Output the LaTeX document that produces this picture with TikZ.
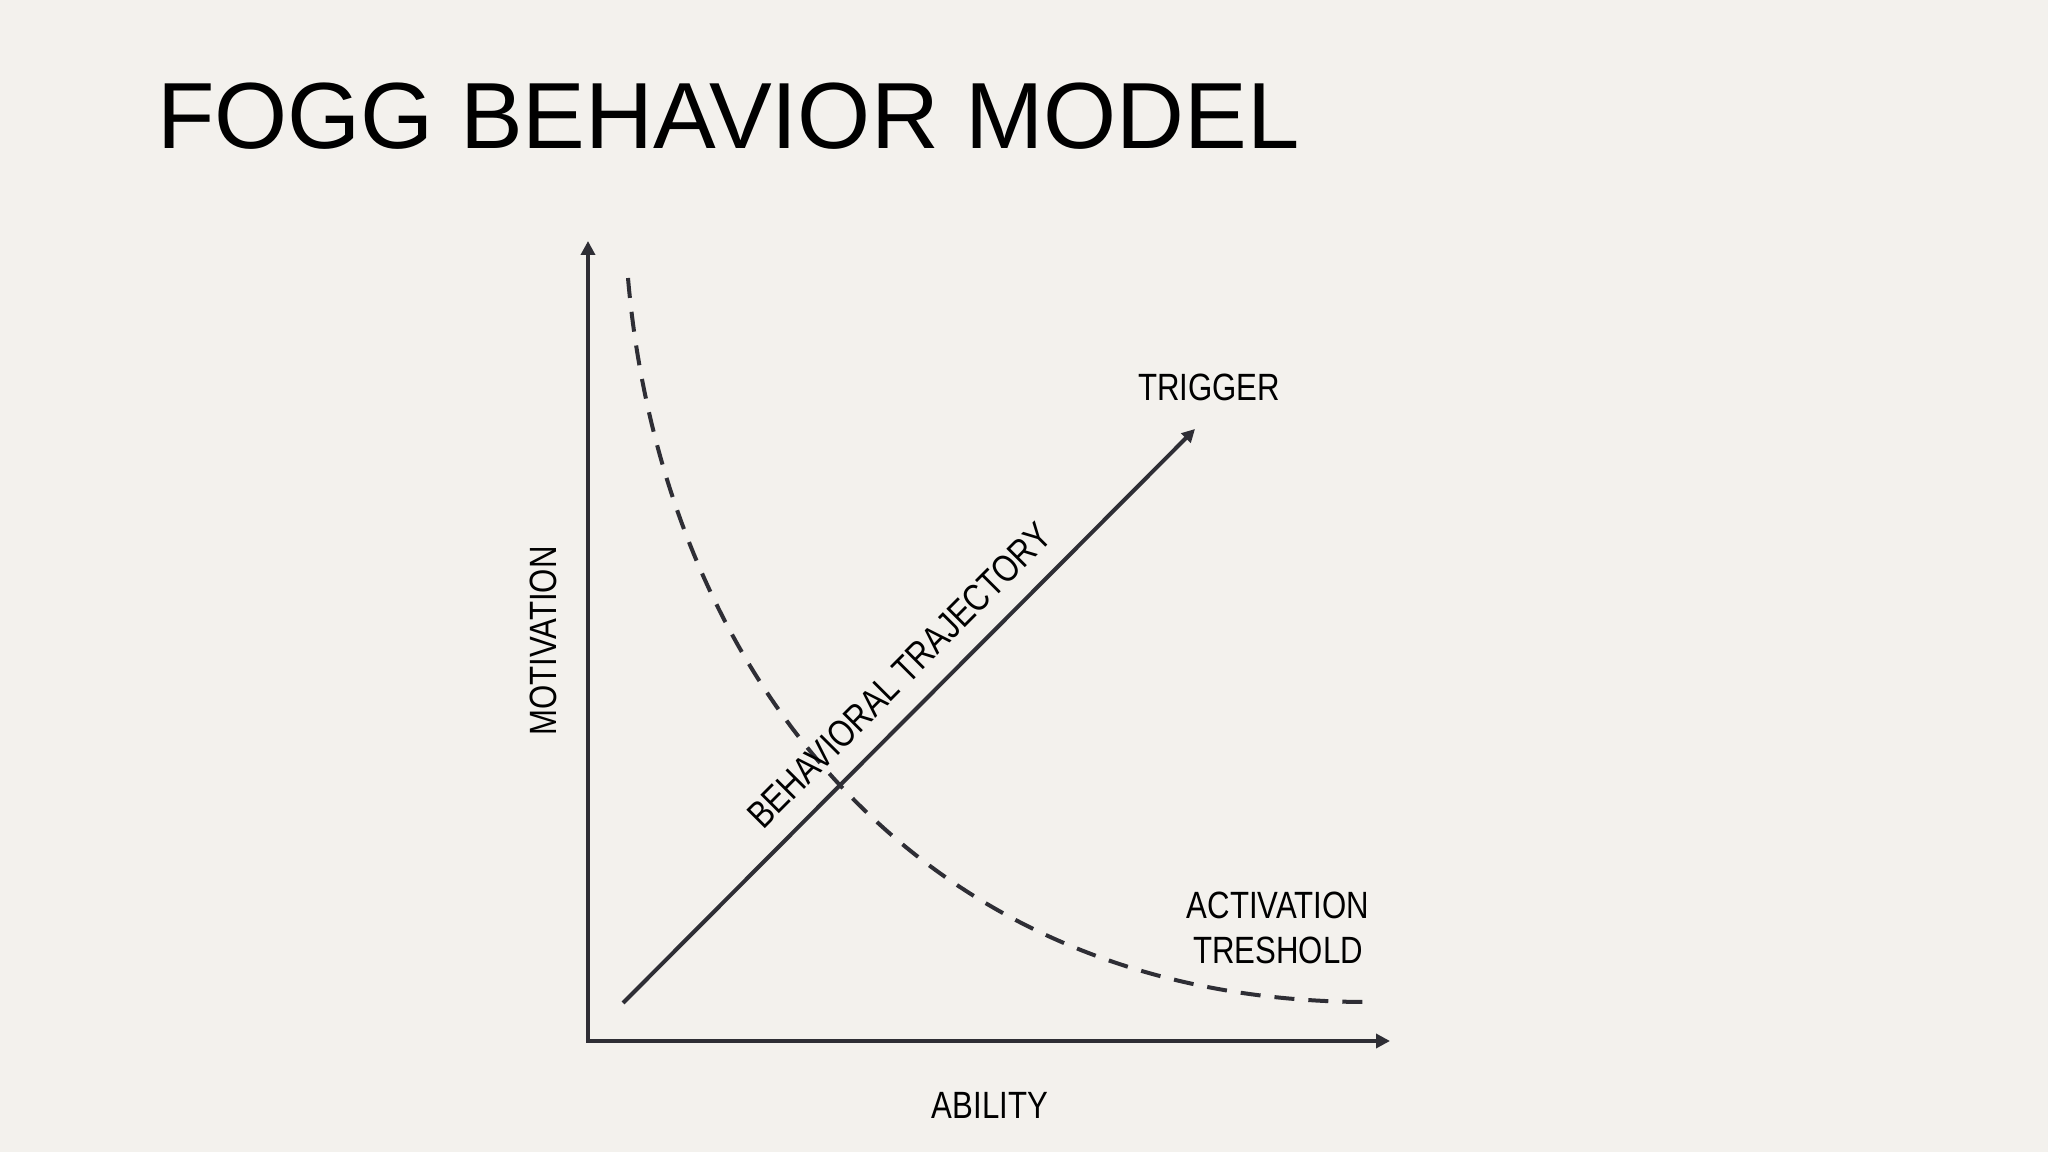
\documentclass[tikz,border=0pt]{standalone}
\usepackage{fontspec}
\setmainfont{Liberation Sans}
\newfontfamily\narrowfont[FakeStretch=0.82]{Liberation Sans}
\usepackage{xcolor}
\usetikzlibrary{arrows.meta}
\definecolor{slide}{HTML}{F3F1ED}
\definecolor{ink}{HTML}{2E2E35}

\begin{document}
\begin{tikzpicture}[
  x=1pt, y=1pt,
  axisline/.style={draw=ink, line width=4pt,
    {Triangle[width=14pt,length=14pt]}-{Triangle[width=14pt,length=14pt]}},
  trajectory/.style={draw=ink, line width=4pt, -{Triangle[width=13pt,length=13pt]}},
  threshold/.style={draw=ink, line width=4pt, dash pattern=on 20pt off 14pt},
  textlabel/.style={inner sep=0pt, text=black, font=\narrowfont\fontsize{38}{45}\selectfont},
  headline/.style={inner sep=0pt, text=black, anchor=base west, font=\fontsize{94}{113}\selectfont}
]
\fill[slide] (0,0) rectangle (2048,1152);
\useasboundingbox (0,0) rectangle (2048,1152);

\node[headline] (title) at (157,1003) {FOGG BEHAVIOR MODEL};

\coordinate (origin) at (588,111);
\coordinate (motivation end) at (588,911);
\coordinate (ability end) at (1390,111);
\coordinate (trajectory start) at (623,149);
\coordinate (trigger end) at (1195,723);
\coordinate (threshold start) at (628,874);
\coordinate (threshold end) at (1364,150);

% axes
\draw[axisline] (motivation end) -- (origin) -- (ability end);
\node[textlabel, rotate=90] (motivation) at (543,511) {MOTIVATION};
\node[textlabel] (ability) at (990,47) {ABILITY};

\draw[threshold] (threshold start) .. controls (660,502) and (900,152) .. (threshold end);
\draw[trajectory] (trajectory start) -- node[textlabel, sloped, above=20pt, pos=0.527] (trajectory label) {BEHAVIORAL TRAJECTORY} (trigger end);

\node[textlabel] (trigger) at (1209,765) {TRIGGER};
\node[textlabel, align=center] (activation) at (1278,224) {ACTIVATION\\TRESHOLD};
\end{tikzpicture}
\end{document}
